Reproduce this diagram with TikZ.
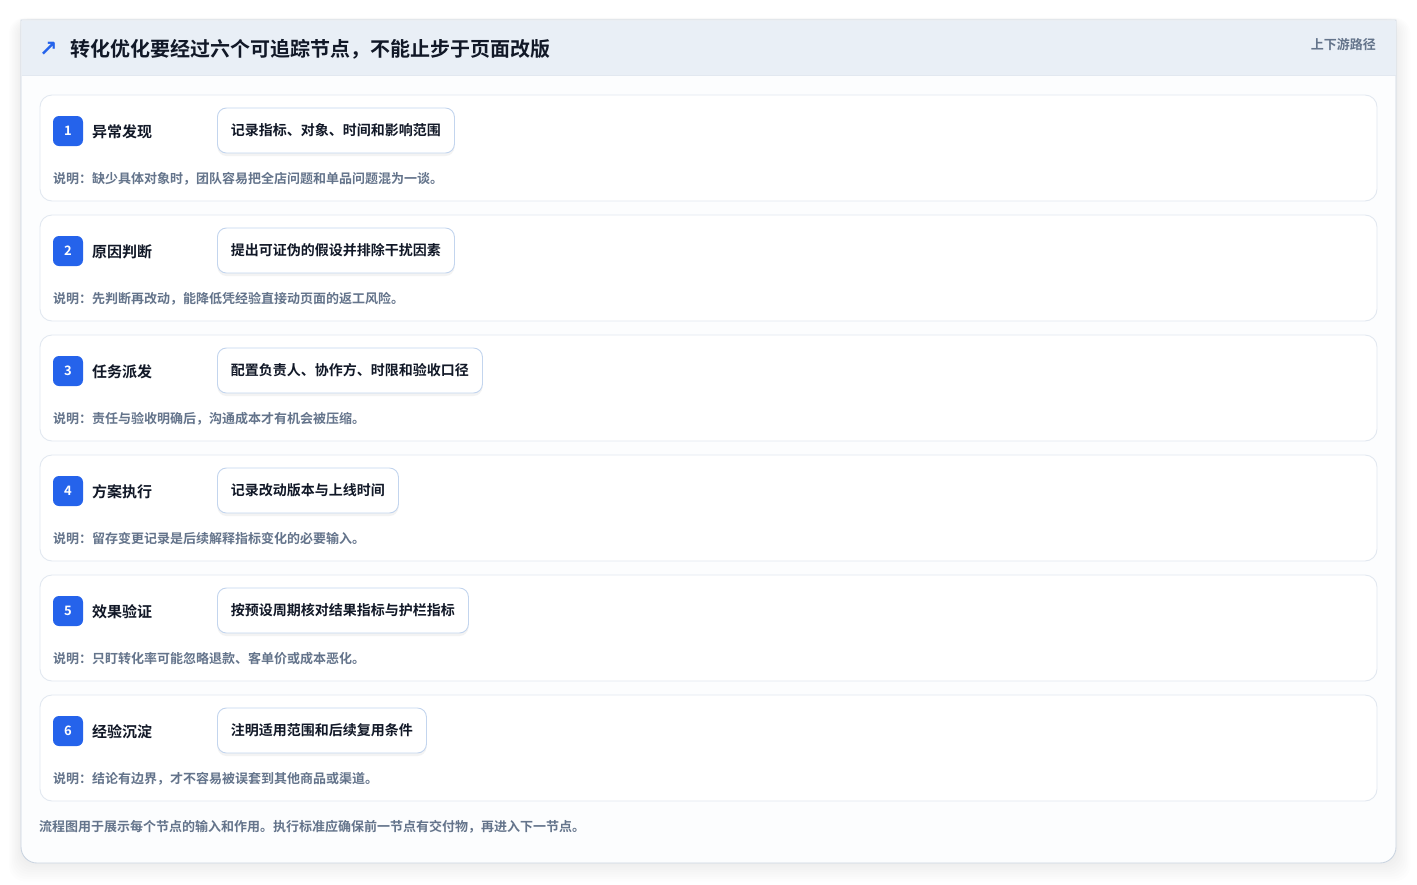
\documentclass[tikz,border=0pt]{standalone}
\usepackage{fontspec}
\newfontfamily\cjk{Noto Sans CJK SC}[BoldFont={Noto Sans CJK SC Bold}]
\newfontfamily\symf{DejaVu Sans}
\usetikzlibrary{shadows}
\definecolor{badgeblue}{HTML}{2563EB}
\definecolor{titlecol}{HTML}{111827}
\definecolor{desccol}{HTML}{64748B}
\definecolor{headband}{HTML}{E9EFF6}
\definecolor{cardborder}{HTML}{CBD5E1}
\definecolor{rowborder}{HTML}{E2E8F0}
\definecolor{innerborder}{HTML}{C3D5EE}
\definecolor{cardfill}{HTML}{FCFDFE}
\tikzset{
  rowbox/.style={draw=rowborder, line width=0.9pt, fill=white, rounded corners=12pt},
  badge/.style={fill=badgeblue, rounded corners=6pt, minimum width=30pt, minimum height=30pt, inner sep=0pt, text=white, font=\cjk\bfseries\fontsize{13}{13}\selectfont},
  rowtitle/.style={anchor=west, inner sep=0pt, text=titlecol, font=\cjk\bfseries\fontsize{15}{15}\selectfont},
  innerbox/.style={anchor=west, draw=innerborder, line width=0.9pt, fill=white, rounded corners=9pt, minimum height=45pt, inner xsep=13.5pt, text=titlecol, font=\cjk\bfseries\fontsize{14}{14}\selectfont, drop shadow={shadow xshift=0pt, shadow yshift=-3pt, opacity=0.08, fill=black!60}},
  desc/.style={anchor=west, inner sep=0pt, text=desccol, font=\cjk\bfseries\fontsize{13}{13}\selectfont},
}
\begin{document}
\begin{tikzpicture}[x=1pt,y=-1pt]
\useasboundingbox (0,0) rectangle (1417,884);
\fill[white] (0,0) rectangle (1417,884);
% soft shadow
\foreach \i in {1,...,8}{
  \fill[black, opacity=0.009, rounded corners=16pt] (21-\i*1.5,20-\i*0.3) rectangle (1396+\i*1.8,863+\i*2.3);
}
% card
\path[fill=cardfill, draw=cardborder, line width=0.9pt, rounded corners=16pt]
  (21,440) -- (21,863) -- (1396,863) -- (1396,440) [sharp corners] -- (1396,20) -- (21,20) -- cycle;
\fill[headband] (21.5,20.5) rectangle (1395.5,75);
\draw[rowborder, line width=0.8pt] (21.5,75) -- (1395.5,75);
\node[anchor=west, inner sep=0pt, text=badgeblue, font=\symf\bfseries\fontsize{22}{22}\selectfont] (arrow) at (39,49.5) {↗};
\node[anchor=west, inner sep=0pt, text=titlecol, font=\cjk\bfseries\fontsize{20}{20}\selectfont] (title) at (70,49.5) {转化优化要经过六个可追踪节点，不能止步于页面改版};
\node[anchor=east, inner sep=0pt, text=desccol, font=\cjk\bfseries\fontsize{13}{13}\selectfont] (tag) at (1376,44.5) {上下游路径};
% rows
\foreach \n/\t/\b/\d [count=\k from 0] in {
  1/异常发现/记录指标、对象、时间和影响范围/说明：缺少具体对象时，团队容易把全店问题和单品问题混为一谈。,
  2/原因判断/提出可证伪的假设并排除干扰因素/说明：先判断再改动，能降低凭经验直接动页面的返工风险。,
  3/任务派发/配置负责人、协作方、时限和验收口径/说明：责任与验收明确后，沟通成本才有机会被压缩。,
  4/方案执行/记录改动版本与上线时间/说明：留存变更记录是后续解释指标变化的必要输入。,
  5/效果验证/按预设周期核对结果指标与护栏指标/说明：只盯转化率可能忽略退款、客单价或成本恶化。,
  6/经验沉淀/注明适用范围和后续复用条件/说明：结论有边界，才不容易被误套到其他商品或渠道。}{
  \pgfmathsetmacro{\yt}{95+\k*120}
  \draw[rowbox] (40,\yt) rectangle (1377,\yt+106);
  \node[badge] (badge\n) at (68,\yt+36) {\n};
  \node[rowtitle] (title\n) at (92,\yt+36.5) {\t};
  \node[innerbox] (box\n) at (217,\yt+35.5) {\b};
  \node[desc] (desc\n) at (53,\yt+83.5) {\d};
}
\node[anchor=west, inner sep=0pt, text=desccol, font=\cjk\bfseries\fontsize{13}{13}\selectfont] (foot) at (39,826.5) {流程图用于展示每个节点的输入和作用。执行标准应确保前一节点有交付物，再进入下一节点。};
\end{tikzpicture}
\end{document}
